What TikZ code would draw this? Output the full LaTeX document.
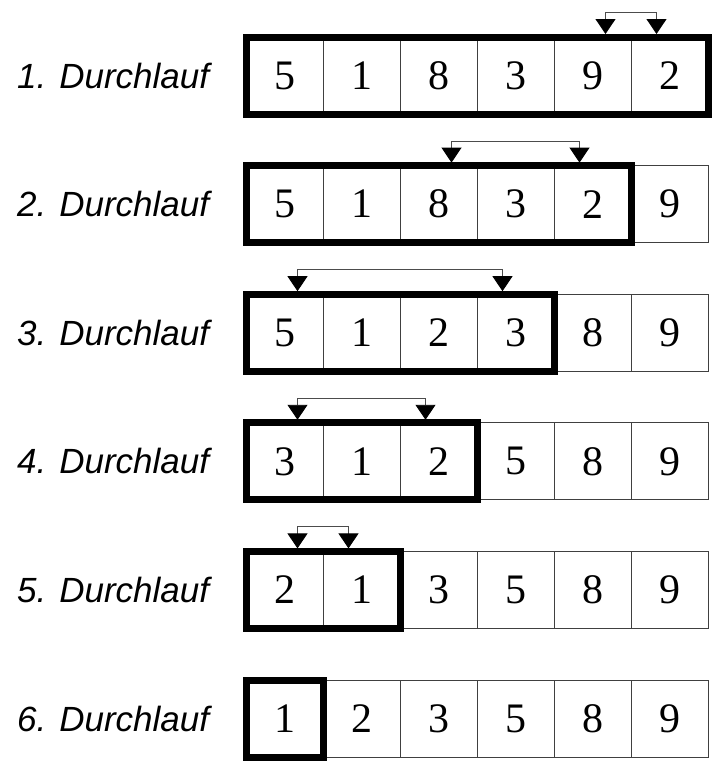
\documentclass[tikz,border=0pt]{standalone}
\usepackage{fontspec}
\setmainfont{Liberation Serif}
\setsansfont{Liberation Sans}
\usetikzlibrary{arrows.meta}
\tikzset{
  zelle/.style={draw=black!75, line width=0.9pt, minimum size=77pt, inner sep=0pt, outer sep=0pt,
    font=\fontsize{42}{42}\selectfont},
  rahmen/.style={line width=7pt},
  tausch/.style={draw=black!70, line width=0.9pt,
    {Triangle[width=20pt,length=15pt,black]}-{Triangle[width=20pt,length=15pt,black]}},
  durchlauf/.style={anchor=west, inner sep=0pt, font=\sffamily\itshape\fontsize{35}{35}\selectfont}
}
\begin{document}
\begin{tikzpicture}[x=1pt,y=1pt]
  \useasboundingbox (0,75.5) rectangle (725,-693.5);
  % Zeile / Werte / Breite des Rahmens / getauschte Zellen
  \foreach \z/\werte/\n/\a/\b in {1/{5,1,8,3,9,2}/6/5/6,
                                  2/{5,1,8,3,2,9}/5/3/5,
                                  3/{5,1,2,3,8,9}/4/1/4,
                                  4/{3,1,2,5,8,9}/3/1/3,
                                  5/{2,1,3,5,8,9}/2/1/2,
                                  6/{1,2,3,5,8,9}/1/0/0} {
    \node[durchlauf] (l\z) at (17,{-(\z-1)*128.6}) {\z. Durchlauf};
    \foreach \w [count=\s] in \werte {
      \node[zelle] (z\z-\s) at ({284.5+(\s-1)*77},{-(\z-1)*128.6}) {\w};
    }
    \draw[rahmen] (z\z-1.north west) rectangle (z\z-\n.south east);
    \ifnum\a>0
      \draw[tausch] ([xshift=13pt,yshift=3pt]z\z-\a.north) -- ++(0,21.5pt)
        -| ([xshift=-13pt,yshift=3pt]z\z-\b.north);
    \fi
  }
\end{tikzpicture}
\end{document}
